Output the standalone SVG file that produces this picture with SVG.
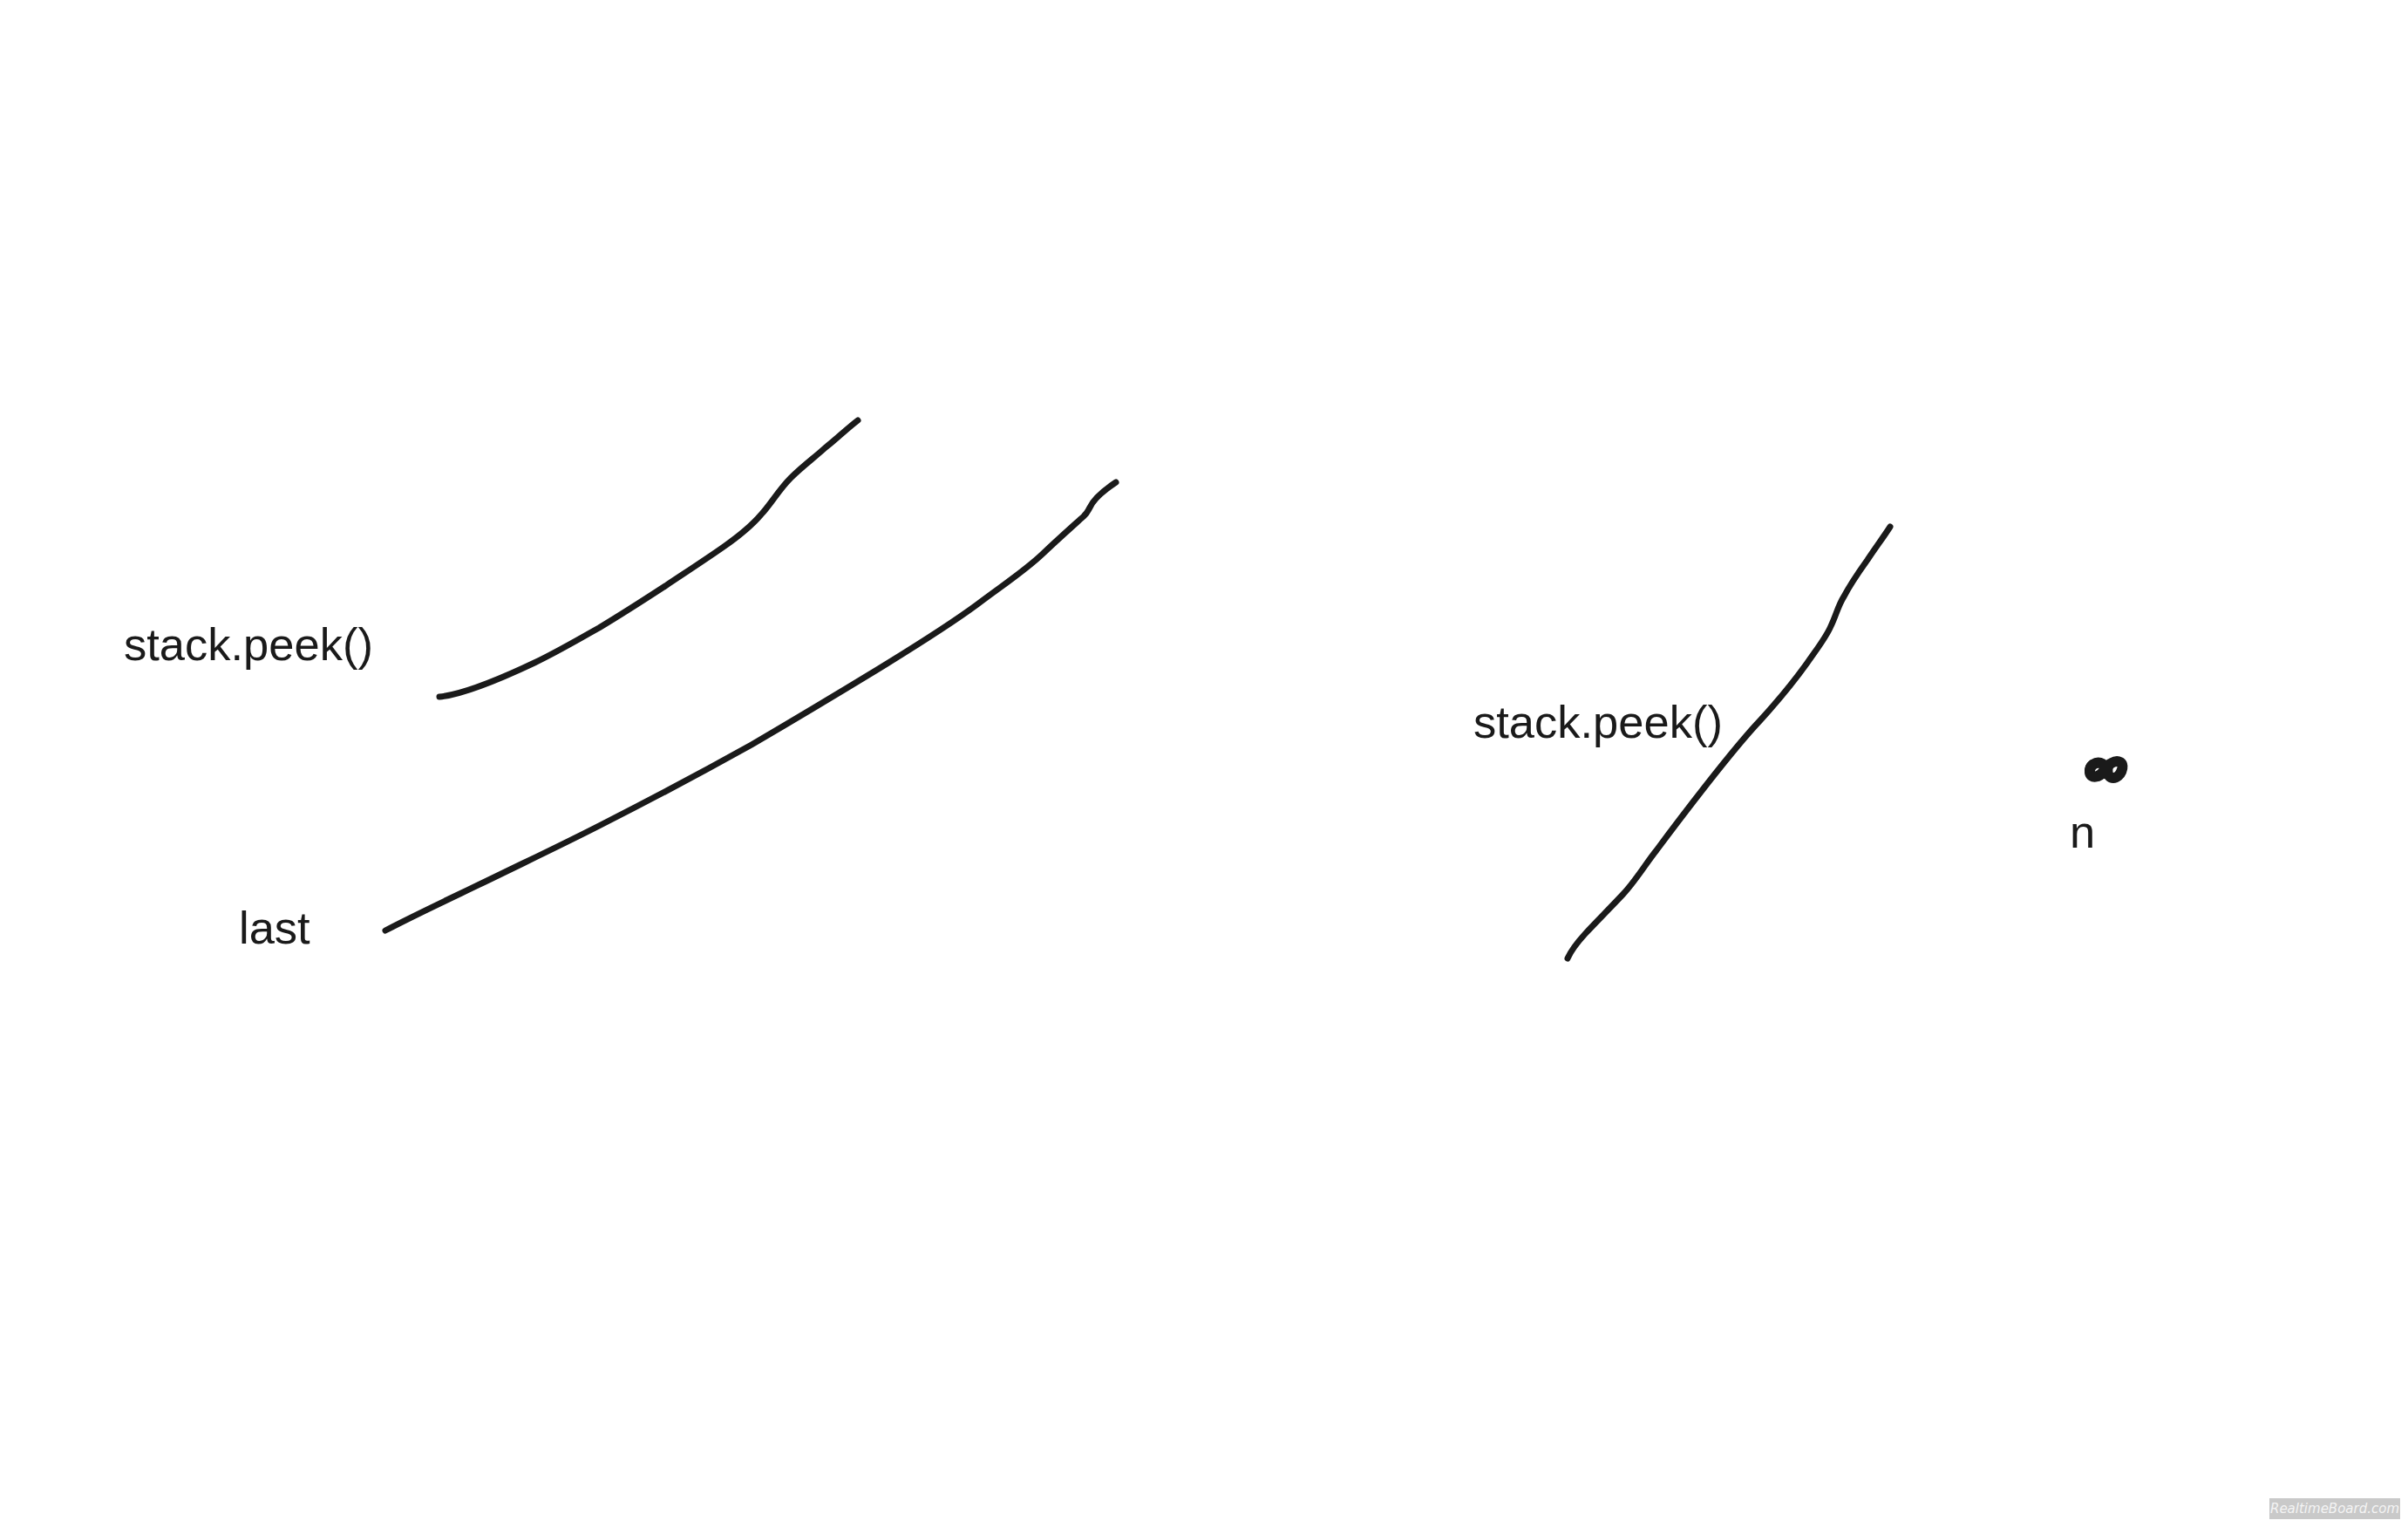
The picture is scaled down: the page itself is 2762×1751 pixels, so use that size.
<svg xmlns="http://www.w3.org/2000/svg" width="2762" height="1751" viewBox="0 0 2762 1751">
<style>
.lbl{font-family:"Liberation Sans",Arial,sans-serif;font-size:52.5px;fill:#1a1a1a}
.stroke{fill:none;stroke:#1a1a1a;stroke-width:7;stroke-linecap:round;stroke-linejoin:round}
.wm{font-family:"DejaVu Sans",sans-serif;font-size:15px;font-style:italic;fill:#f4f4f4}
</style>
<rect width="2762" height="1751" fill="#ffffff"/>
<g id="connectors">
<path class="stroke" d="M504,799 C525,797 560,785 613,760 C640,747 660,735 687,720 C712,705 740,687 763,672 C790,654 810,641 830,627 C850,613 862,603 873,590 C885,577 893,562 907,548 C920,535 935,524 947,513 C960,503 972,491 984,482"/>
<path class="stroke" d="M442,1067 C480,1047 530,1024 573,1003 C610,985 650,966 689,946 C750,915 810,883 862,854 C915,823 960,796 1006,768 C1050,741 1090,716 1121,693 C1150,671 1175,655 1196,635 C1215,617 1232,602 1243,592 C1248,587 1248,585 1250,582 C1254,573 1262,565 1280,553"/>
<path class="stroke" d="M1798,1099 C1802,1090 1808,1082 1818,1071 C1832,1056 1848,1040 1862,1025 C1876,1010 1888,990 1900,975 C1920,948 1940,922 1958,899 C1980,871 2000,846 2019,826 C2040,803 2058,781 2073,760 C2087,740 2095,730 2100,718 C2106,706 2108,695 2115,684 C2124,667 2132,656 2142,642 C2152,627 2161,615 2168,604"/>
</g>
<g id="label-stack-peek-1"><text class="lbl" x="142" y="757">stack.peek()</text></g>
<g id="label-last"><text class="lbl" x="274" y="1082">last</text></g>
<g id="label-stack-peek-2"><text class="lbl" x="1690" y="846">stack.peek()</text></g>
<g id="label-n"><text class="lbl" x="2374" y="972">n</text></g>
<g id="scribble">
<path fill="none" stroke="#1a1a1a" stroke-width="12" stroke-linecap="round" stroke-linejoin="round" d="M2412,876 C2404,872 2396,878 2397,886 C2398,893 2408,892 2413,884 C2418,876 2426,871 2432,874 C2438,878 2432,892 2424,892 C2416,892 2416,880 2420,876"/>
<path fill="none" stroke="#1a1a1a" stroke-width="10" stroke-linecap="round" d="M2400,876 C2395,880 2395,888 2402,890"/>
</g>
<g id="watermark">
<rect x="2603" y="1718" width="150" height="24" fill="#c9c9c9"/>
<text class="wm" x="2678" y="1735" text-anchor="middle">RealtimeBoard.com</text>
</g>
</svg>
